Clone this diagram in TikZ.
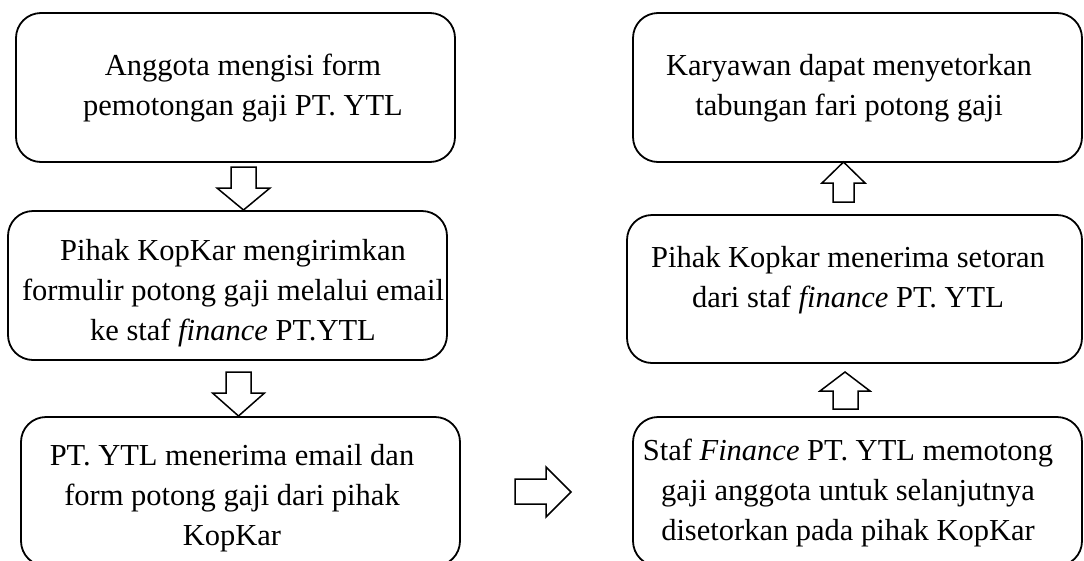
\documentclass[tikz,border=0pt]{standalone}
\usepackage{fontspec}
\setmainfont{Liberation Serif}
\begin{document}
\begin{tikzpicture}[x=1pt,y=-1pt,
  box/.style={draw=black, line width=1.8pt, rounded corners=25pt},
  txt/.style={anchor=base, inner sep=0pt, font=\fontsize{30.5}{40}\selectfont},
  barrow/.style={draw=black, line width=1.5pt, fill=white, line join=miter}]
\useasboundingbox (0,0) rectangle (1084,560);
\setlength{\tabcolsep}{0pt}
% boxes
\draw[box] (16,13) rectangle (455,162) node[pos=0.5] (b1) {};
\draw[box] (8,211) rectangle (447,360) node[pos=0.5] (b2) {};
\draw[box] (21,417) rectangle (460,566) node[pos=0.5] (b3) {};
\draw[box] (633,13) rectangle (1082,162) node[pos=0.5] (r1) {};
\draw[box] (627,215) rectangle (1082,363) node[pos=0.5] (r2) {};
\draw[box] (633,417) rectangle (1082,566) node[pos=0.5] (r3) {};
% texts
\node[txt] (t1) at (243,75) {\begin{tabular}[t]{c}Anggota mengisi form\\pemotongan gaji PT. YTL\end{tabular}};
\node[txt] (t2) at (233,260) {\begin{tabular}[t]{c}Pihak KopKar mengirimkan\\formulir potong gaji melalui email\\ke staf \textit{finance} PT.YTL\end{tabular}};
\node[txt] (t3) at (232,465) {\begin{tabular}[t]{c}PT. YTL menerima email dan\\form potong gaji dari pihak\\KopKar\end{tabular}};
\node[txt] (t4) at (849,75) {\begin{tabular}[t]{c}Karyawan dapat menyetorkan\\tabungan fari potong gaji\end{tabular}};
\node[txt] (t5) at (848,267) {\begin{tabular}[t]{c}Pihak Kopkar menerima setoran\\dari staf \textit{finance} PT. YTL\end{tabular}};
\node[txt] (t6) at (848,460) {\begin{tabular}[t]{c}Staf \textit{Finance} PT. YTL memotong\\gaji anggota untuk selanjutnya\\disetorkan pada pihak KopKar\end{tabular}};
% block arrows
\draw[barrow] (231,167) -- (256,167) -- (256,188) -- (270,188) -- (243.5,210) -- (217,188) -- (231,188) -- cycle;
\draw[barrow] (226,372) -- (251,372) -- (251,393) -- (264.5,393) -- (238.5,416) -- (212.5,393) -- (226,393) -- cycle;
\draw[barrow] (515,479) -- (546,479) -- (546,467) -- (571,492) -- (546,517) -- (546,504) -- (515,504) -- cycle;
\draw[barrow] (833,202) -- (854,202) -- (854,183) -- (865,183) -- (843.5,162) -- (822,183) -- (833,183) -- cycle;
\draw[barrow] (833,409) -- (858,409) -- (858,391) -- (870,391) -- (845,372) -- (820,391) -- (833,391) -- cycle;
\end{tikzpicture}
\end{document}
